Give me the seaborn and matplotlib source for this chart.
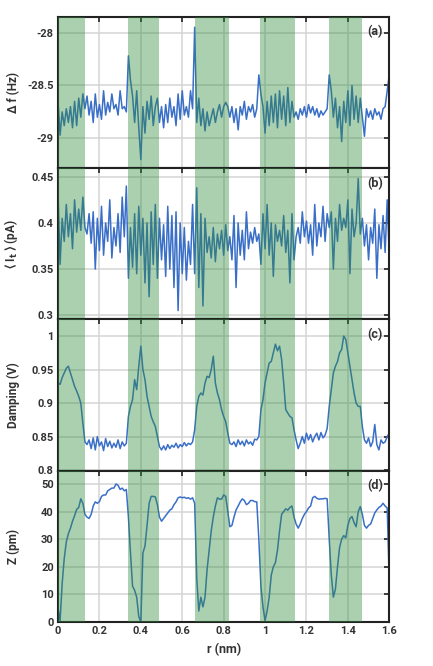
import numpy as np
import pandas as pd
import matplotlib
matplotlib.use("Agg")
import matplotlib.pyplot as plt
from matplotlib.ticker import FuncFormatter
import seaborn as sns

# shaded regions (nm)
band_start = [0.0, 0.34, 0.66, 0.975, 1.31]
band_end = [0.13, 0.49, 0.825, 1.145, 1.47]

# frequency shift (Hz), sampled every 0.01 nm
df_hz = [
    -28.65, -28.97, -28.75, -28.88, -28.72, -28.85, -28.70, -28.90, -28.65, -28.88,
    -28.62, -28.80, -28.58, -28.72, -28.60, -28.78, -28.65, -28.85, -28.58, -28.80,
    -28.68, -28.82, -28.55, -28.78, -28.66, -28.75, -28.58, -28.72, -28.68, -28.78,
    -28.55, -28.72, -28.70, -28.75, -28.22, -28.45, -28.60, -28.85, -28.55, -28.90,
    -29.20, -28.70, -28.95, -28.65, -28.82, -28.60, -28.88, -28.70, -28.62, -28.85,
    -28.70, -28.90, -28.68, -28.85, -28.62, -28.80, -28.70, -28.88, -28.58, -28.82,
    -28.55, -28.78, -28.70, -28.80, -28.55, -28.72, -27.95, -28.85, -28.62, -28.88,
    -28.72, -28.93, -28.75, -28.88, -28.80, -28.72, -28.85, -28.75, -28.68, -28.80,
    -28.70, -28.66, -28.70, -28.80, -28.70, -28.85, -28.72, -28.92, -28.70, -28.78,
    -28.65, -28.82, -28.70, -28.75, -28.68, -28.80, -28.72, -28.40, -28.58, -28.70,
    -28.95, -28.65, -28.88, -28.60, -28.85, -28.58, -28.90, -28.55, -28.82, -28.60,
    -28.88, -28.52, -28.85, -28.65, -28.80, -28.75, -28.82, -28.72, -28.78, -28.70,
    -28.80, -28.68, -28.76, -28.70, -28.78, -28.72, -28.80, -28.74, -28.78, -28.75,
    -28.72, -28.40, -28.55, -28.80, -28.62, -28.90, -28.70, -29.03, -28.65, -28.85,
    -28.55, -28.88, -28.50, -28.82, -28.60, -28.85, -28.62, -28.80, -28.98, -28.72,
    -28.80, -28.74, -28.82, -28.72, -28.78, -28.75, -28.82, -28.72, -28.70, -28.55,
    -28.40,
]

# mean tunnelling current (pA)
it_pa = [
    0.432, 0.355, 0.405, 0.380, 0.420, 0.385, 0.410, 0.372, 0.425, 0.390,
    0.415, 0.392, 0.428, 0.395, 0.388, 0.410, 0.378, 0.412, 0.350, 0.405,
    0.370, 0.418, 0.365, 0.400, 0.380, 0.425, 0.362, 0.395, 0.375, 0.410,
    0.368, 0.428, 0.385, 0.440, 0.340, 0.395, 0.352, 0.410, 0.345, 0.418,
    0.365, 0.405, 0.335, 0.400, 0.320, 0.412, 0.355, 0.420, 0.340, 0.405,
    0.360, 0.398, 0.342, 0.418, 0.350, 0.408, 0.330, 0.412, 0.305, 0.400,
    0.345, 0.395, 0.338, 0.380, 0.355, 0.420, 0.345, 0.438, 0.330, 0.410,
    0.310, 0.405, 0.368, 0.385, 0.362, 0.395, 0.358, 0.388, 0.372, 0.392,
    0.365, 0.398, 0.370, 0.385, 0.360, 0.408, 0.330, 0.400, 0.365, 0.392,
    0.360, 0.412, 0.372, 0.390, 0.378, 0.395, 0.380, 0.388, 0.355, 0.410,
    0.372, 0.420, 0.365, 0.400, 0.342, 0.398, 0.380, 0.392, 0.375, 0.408,
    0.368, 0.392, 0.335, 0.410, 0.360, 0.385, 0.395, 0.378, 0.412, 0.385,
    0.402, 0.378, 0.398, 0.365, 0.420, 0.375, 0.400, 0.385, 0.418, 0.380,
    0.410, 0.395, 0.412, 0.350, 0.405, 0.380, 0.420, 0.392, 0.405, 0.395,
    0.425, 0.345, 0.415, 0.385, 0.400, 0.448, 0.388, 0.405, 0.375, 0.398,
    0.360, 0.395, 0.378, 0.415, 0.340, 0.398, 0.372, 0.408, 0.368, 0.425,
    0.365,
]

# damping (V)
damping_v = [
    0.930, 0.928, 0.938, 0.945, 0.952, 0.955, 0.945, 0.935, 0.925, 0.918,
    0.910, 0.900, 0.870, 0.842, 0.838, 0.845, 0.832, 0.848, 0.830, 0.850,
    0.836, 0.842, 0.829, 0.847, 0.835, 0.843, 0.833, 0.840, 0.834, 0.845,
    0.832, 0.842, 0.836, 0.840, 0.880, 0.895, 0.905, 0.935, 0.920, 0.955,
    0.985, 0.950, 0.935, 0.910, 0.895, 0.880, 0.872, 0.865, 0.850, 0.835,
    0.830, 0.836, 0.830, 0.838, 0.832, 0.837, 0.834, 0.840, 0.833, 0.838,
    0.835, 0.841, 0.836, 0.840, 0.838, 0.842, 0.860, 0.895, 0.910, 0.915,
    0.912, 0.930, 0.940, 0.938, 0.950, 0.970, 0.930, 0.915, 0.905, 0.890,
    0.880, 0.872, 0.855, 0.840, 0.838, 0.842, 0.835, 0.845, 0.838, 0.843,
    0.836, 0.845, 0.839, 0.842, 0.837, 0.846, 0.845, 0.850, 0.890, 0.905,
    0.930, 0.945, 0.960, 0.962, 0.975, 0.988, 0.978, 0.985, 0.965, 0.930,
    0.890, 0.885, 0.880, 0.878, 0.860, 0.845, 0.832, 0.840, 0.850, 0.840,
    0.855, 0.845, 0.853, 0.842, 0.850, 0.855, 0.845, 0.856, 0.848, 0.852,
    0.862, 0.895, 0.920, 0.945, 0.955, 0.962, 0.975, 0.980, 1.000, 0.995,
    0.975, 0.955, 0.935, 0.915, 0.900, 0.895, 0.895, 0.865, 0.845, 0.840,
    0.848, 0.835, 0.842, 0.868, 0.838, 0.830, 0.845, 0.840, 0.842, 0.850,
    0.855,
]

# tip height (pm)
z_pm = [
    5.0, 0.5, 14.0, 23.0, 29.0, 32.0, 34.0, 36.5, 38.5, 40.8,
    41.5, 44.6, 43.0, 39.0, 38.0, 37.5, 39.0, 42.0, 43.5, 43.0,
    43.6, 45.5, 46.0, 46.0, 47.5, 48.0, 48.5, 48.5, 50.0, 49.5,
    48.0, 48.5, 47.5, 48.0, 38.0, 25.0, 13.0, 11.5, 9.0, 2.0,
    0.0, 25.0, 27.5, 35.0, 43.0, 45.5, 45.5, 45.3, 42.5, 38.0,
    36.5, 37.5, 38.5, 39.5, 40.5, 41.0, 42.5, 43.5, 45.0, 45.3,
    45.0, 45.2, 44.8, 45.0, 44.5, 45.0, 43.0, 16.0, 4.0, 9.0,
    5.5, 9.0, 19.0, 26.0, 33.0, 38.0, 42.0, 45.0, 44.5, 44.5,
    46.0, 45.5, 40.0, 34.5, 35.0, 38.0, 40.6, 42.0, 43.5, 44.6,
    44.0, 42.5, 43.0, 44.0, 44.0, 43.6, 43.5, 30.0, 13.0, 5.5,
    0.5, 4.0, 9.0, 17.0, 20.0, 21.5, 26.0, 33.0, 39.0, 40.0,
    41.0, 40.5, 41.5, 42.0, 38.0, 35.5, 34.0, 35.5, 37.5, 39.0,
    40.0, 41.3, 42.0, 45.0, 45.5, 44.8, 44.5, 44.6, 44.6, 44.8,
    44.6, 30.0, 17.0, 9.0, 12.0, 20.0, 27.0, 30.0, 31.3, 30.5,
    35.0, 37.5, 38.2, 36.0, 34.5, 40.0, 41.8, 39.0, 35.0, 34.0,
    35.0, 35.5, 37.5, 39.5, 40.6, 41.5, 42.0, 43.0, 42.0, 41.3,
    15.0,
]

r_nm = np.linspace(0, 1.6, len(z_pm))

data = pd.DataFrame({"r": r_nm, "df": df_hz, "it": it_pa, "damp": damping_v, "z": z_pm})

sns.set_style("white")
plt.rcParams["font.family"] = ["Roboto", "DejaVu Sans"]
plt.rcParams["font.weight"] = "bold"
plt.rcParams["axes.labelweight"] = "bold"
plt.rcParams["mathtext.fontset"] = "dejavusans"

line_color = "#3a6fc8"
band_color = "#2e8b3a"

panels = [
    ("df", "\u0394 f (Hz)", (-29.28, -27.85), [-29, -28.5, -28], "(a)"),
    ("it", "\u27e8 I$_\\mathbf{t}$ \u27e9 (pA)", (0.2955, 0.4595), [0.3, 0.35, 0.4, 0.45], "(b)"),
    ("damp", "Damping (V)", (0.799, 1.025), [0.8, 0.85, 0.9, 0.95, 1.0], "(c)"),
    ("z", "Z (pm)", (0, 54.8), [0, 10, 20, 30, 40, 50], "(d)"),
]

fig, axes = plt.subplots(4, 1, figsize=(4.33, 6.66), dpi=100, sharex=True)
fig.subplots_adjust(left=0.134, right=0.899, top=0.975, bottom=0.066, hspace=0)

for ax, (col, label, lim, ticks, tag) in zip(axes, panels):
    sns.lineplot(data=data, x="r", y=col, ax=ax, color=line_color, linewidth=1.1, zorder=2)
    for s, e in zip(band_start, band_end):
        ax.axvspan(s, e, color=band_color, alpha=0.4, lw=0, zorder=3)
    ax.set_xlim(0, 1.6)
    ax.set_ylim(*lim)
    ax.set_yticks(ticks)
    ax.set_xticks([0, 0.2, 0.4, 0.6, 0.8, 1.0, 1.2, 1.4, 1.6])
    ax.yaxis.set_major_formatter(FuncFormatter(lambda v, p: "%g" % v))
    ax.xaxis.set_major_formatter(FuncFormatter(lambda v, p: "%g" % v))
    ax.grid(True, color="#d4d4d4", linewidth=1.1, zorder=0)
    ax.set_axisbelow(True)
    ax.tick_params(direction="in", length=3.5, width=1.2, top=True, right=True,
                   labelsize=8, colors="#222222", labelcolor="#333333", pad=3)
    for sp in ax.spines.values():
        sp.set_visible(True)
        sp.set_color("#222222")
        sp.set_linewidth(1.5)
    ax.set_ylabel(label, fontsize=8.5, color="#333333")
    ax.yaxis.set_label_coords(-0.115, 0.5)
    ax.set_xlabel("")
    ax.text(0.98, 0.9, tag, transform=ax.transAxes, ha="right", va="center",
            fontsize=9, fontweight="bold", color="#333333", zorder=5)

axes[-1].set_xlabel("r (nm)", fontsize=9, color="#333333", labelpad=5)

fig.savefig("out.png", dpi=100)
